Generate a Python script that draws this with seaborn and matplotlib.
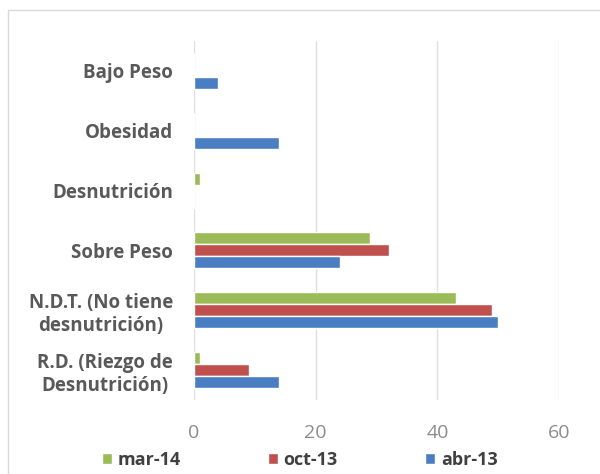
import numpy as np
import matplotlib
matplotlib.use('Agg')
import matplotlib.pyplot as plt
import pandas as pd
import seaborn as sns
from matplotlib.patches import Rectangle

# datos
categorias = ['Bajo Peso', 'Obesidad', 'Desnutrición', 'Sobre Peso',
              'N.D.T. (No tiene\ndesnutrición)', 'R.D. (Riezgo de\nDesnutrición)']
periodos = ['mar-14', 'oct-13', 'abr-13']
mar14 = [0, 0, 1, 29, 43, 1]
oct13 = [0, 0, 0, 32, 49, 9]
abr13 = [4, 14, 0, 24, 50, 14]
colores = ['#9BBB59', '#C0504D', '#4A7EC2']
xticks = [0, 20, 40, 60]

# tabla larga para seaborn
filas = []
for periodo, valores in zip(periodos, [mar14, oct13, abr13]):
    for cat, v in zip(categorias, valores):
        filas.append({'categoria': cat, 'periodo': periodo, 'valor': v})
df = pd.DataFrame(filas)

sns.set_style('white')
plt.rcParams['font.family'] = ['Open Sans', 'DejaVu Sans']

fig = plt.figure(figsize=(6, 4.74), dpi=100)
# borde gris del grafico
fig.patches.append(Rectangle((8 / 600, -0.1), 1.1, 1 - 10 / 474 + 0.1,
                             transform=fig.transFigure, fill=False,
                             edgecolor='#d9d9d9', lw=1))
ax = fig.add_axes([194 / 600, 1 - 400 / 474, (559 - 194) / 600, (400 - 41) / 474])

sns.barplot(data=df, y='categoria', x='valor', hue='periodo', order=categorias,
            hue_order=periodos, palette=colores, orient='h', width=0.6,
            saturation=1, ax=ax, legend=True)

ax.set_xlim(0, 60)
ax.set_xticks(xticks)
ax.set_xlabel('')
ax.set_ylabel('')
ax.grid(axis='x', color='#e0e0e0', lw=1)
ax.set_axisbelow(True)
for s in ax.spines.values():
    s.set_visible(False)
ax.tick_params(axis='both', length=0)
ax.tick_params(axis='x', labelsize=14, labelcolor='#8c8c8c', pad=17)
ax.tick_params(axis='y', pad=15)
for lab in ax.get_yticklabels():
    lab.set_fontsize(13.5)
    lab.set_fontweight('bold')
    lab.set_color('#595959')
    lab.set_multialignment('center')

handles, labels = ax.get_legend_handles_labels()
ax.legend(handles, labels, loc='center', bbox_to_anchor=(0.29, -0.168),
          ncol=3, frameon=False, handlelength=0.55, handleheight=0.55,
          handletextpad=0.3, columnspacing=4.85,
          prop={'weight': 'bold', 'size': 13}, labelcolor='#404040')

fig.savefig('out.png', dpi=100)
